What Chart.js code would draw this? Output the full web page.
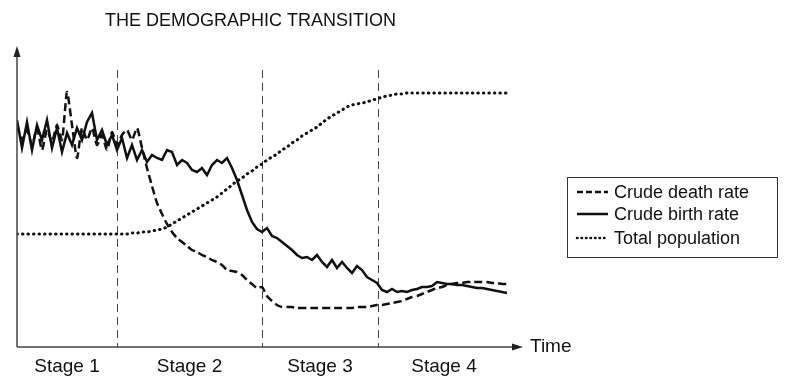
<!DOCTYPE html>
<html lang="en">
<head>
  <meta charset="UTF-8" />
  <title>The Demographic Transition</title>
  <script src="https://cdn.jsdelivr.net/npm/chart.js@4.4.1/dist/chart.umd.min.js"></script>
  <style>
    html, body { margin: 0; padding: 0; background: #fff; }
    #wrap { width: 786px; height: 384px; position: relative; }
  </style>
</head>
<body>
  <div id="wrap"><canvas id="chart"></canvas></div>

  <script>
    // --- data (time steps 0..98, arbitrary units, no y ticks on the original) ---
    const birthRate = [
      227,199,225,197,222,207,227,199,219,195,214,202,219,207,225,234,207,217,202,212,
      197,209,189,202,187,197,185,192,189,187,197,195,182,187,184,177,175,179,172,182,
      187,184,189,179,167,152,137,125,118,115,119,111,109,105,101,97,92,89,90,87,
      92,85,80,87,79,85,79,74,81,77,70,67,64,57,55,58,55,56,55,57,
      58,60,60,61,65,64,63,63,62,62,61,60,59,59,58,57,56,55,54
    ];
    const deathRate = [
      222,207,217,202,219,197,217,205,222,207,255,222,189,219,207,219,202,212,197,215,
      202,212,217,207,219,199,179,161,144,133,123,115,109,105,101,97,95,92,90,87,
      85,82,77,76,75,72,67,63,59,60,51,46,42,40,40,40,39,39,39,39,
      39,39,39,39,39,39,39,39,40,40,40,41,42,42,43,44,45,46,48,50,
      51,53,55,57,59,60,62,63,64,64,65,65,65,65,65,64,64,63,63
    ];
    const population = [
      113,113,113,113,113,113,113,113,113,113,113,113,113,113,113,113,113,113,113,113,
      113,113,113,114,114,115,115,116,117,118,120,123,126,129,132,135,138,141,144,147,
      150,154,158,162,166,169,173,176,180,183,187,190,193,197,200,204,207,211,214,217,
      220,224,228,231,234,237,240,242,243,244,245,247,248,250,251,252,253,253,254,254,
      254,254,254,254,254,254,254,254,254,254,254,254,254,254,254,254,254,254,254
    ];
    const timeSteps = birthRate.map((_, i) => i);

    const stageEdges = [0, 20, 49, 72.2, 98.6];
    const stageLabels = ['Stage 1', 'Stage 2', 'Stage 3', 'Stage 4'];
    const seriesNames = ['Crude death rate', 'Crude birth rate', 'Total population'];

    const toPoints = arr => arr.map((v, i) => ({ x: timeSteps[i], y: v }));

    const FONT = '"Liberation Sans", Arial, Helvetica, sans-serif';
    const INK = '#111';
    const AXIS = '#444';

    // draws the axes with arrows, stage lines, labels, title and legend box
    const decorations = {
      id: 'decorations',
      beforeDatasetsDraw(chart) {
        const { ctx, chartArea: a, scales: { x } } = chart;
        ctx.save();
        ctx.strokeStyle = AXIS;
        ctx.lineWidth = 1;
        ctx.setLineDash([8, 5]);
        stageEdges.slice(1, 4).forEach(t => {
          const px = Math.round(x.getPixelForValue(t)) + 0.5;
          ctx.beginPath();
          ctx.moveTo(px, 70);
          ctx.lineTo(px, a.bottom);
          ctx.stroke();
        });
        ctx.restore();
      },
      afterDraw(chart) {
        const { ctx, chartArea: a, scales: { x } } = chart;
        ctx.save();

        // axes
        ctx.strokeStyle = AXIS;
        ctx.fillStyle = '#222';
        ctx.lineWidth = 1.5;
        ctx.beginPath();
        ctx.moveTo(a.left, a.bottom);
        ctx.lineTo(a.left, a.top + 8);
        ctx.moveTo(a.left, a.bottom);
        ctx.lineTo(a.right - 8, a.bottom);
        ctx.stroke();
        // arrow heads
        ctx.beginPath();
        ctx.moveTo(a.left, a.top - 1);
        ctx.lineTo(a.left - 3.5, a.top + 10);
        ctx.lineTo(a.left + 3.5, a.top + 10);
        ctx.closePath();
        ctx.fill();
        ctx.beginPath();
        ctx.moveTo(a.right + 1, a.bottom);
        ctx.lineTo(a.right - 10, a.bottom - 3.5);
        ctx.lineTo(a.right - 10, a.bottom + 3.5);
        ctx.closePath();
        ctx.fill();

        // texts
        ctx.fillStyle = INK;
        ctx.font = '18px ' + FONT;
        ctx.textBaseline = 'middle';
        ctx.textAlign = 'left';
        ctx.fillText('THE DEMOGRAPHIC TRANSITION', 105, 21);
        ctx.font = '19px ' + FONT;
        ctx.fillText('Time', 530, a.bottom);

        ctx.textAlign = 'center';
        stageLabels.forEach((lbl, i) => {
          const cx = (x.getPixelForValue(stageEdges[i]) + x.getPixelForValue(stageEdges[i + 1])) / 2;
          ctx.fillText(lbl, cx, 367);
        });

        // legend
        const lx = 567, ly = 177, lw = 210, lh = 80;
        ctx.strokeStyle = '#333';
        ctx.lineWidth = 1;
        ctx.strokeRect(lx + 0.5, ly + 0.5, lw, lh);
        const rows = [192, 214, 238];
        const styles = [
          { dash: [6, 3], cap: 'butt', w: 2.5 },
          { dash: [], cap: 'butt', w: 2.5 },
          { dash: [0.5, 4], cap: 'round', w: 2.5 }
        ];
        ctx.font = '18px ' + FONT;
        ctx.textAlign = 'left';
        rows.forEach((ry, i) => {
          const s = styles[i];
          ctx.strokeStyle = INK;
          ctx.lineWidth = s.w;
          ctx.lineCap = s.cap;
          ctx.setLineDash(s.dash);
          ctx.beginPath();
          ctx.moveTo(577, ry);
          ctx.lineTo(608, ry);
          ctx.stroke();
          ctx.fillText(seriesNames[i], 614, ry + 1);
        });
        ctx.restore();
      }
    };

    new Chart(document.getElementById('chart'), {
      type: 'line',
      data: {
        datasets: [
          {
            label: seriesNames[0],
            data: toPoints(deathRate),
            borderColor: INK,
            borderWidth: 2.5,
            borderDash: [8, 4],
            pointRadius: 0,
            tension: 0.2
          },
          {
            label: seriesNames[1],
            data: toPoints(birthRate),
            borderColor: INK,
            borderWidth: 2.5,
            pointRadius: 0,
            tension: 0
          },
          {
            label: seriesNames[2],
            data: toPoints(population),
            borderColor: INK,
            borderWidth: 3,
            borderDash: [0.5, 5],
            borderCapStyle: 'round',
            pointRadius: 0,
            tension: 0.3
          }
        ]
      },
      options: {
        responsive: true,
        maintainAspectRatio: false,
        animation: false,
        layout: { padding: { left: 17, right: 264, top: 47, bottom: 37 } },
        scales: {
          x: { type: 'linear', min: 0, max: 101, display: false },
          y: { min: 0, max: 300, display: false }
        },
        plugins: {
          legend: { display: false },
          tooltip: { enabled: false }
        }
      },
      plugins: [decorations]
    });
  </script>
</body>
</html>
